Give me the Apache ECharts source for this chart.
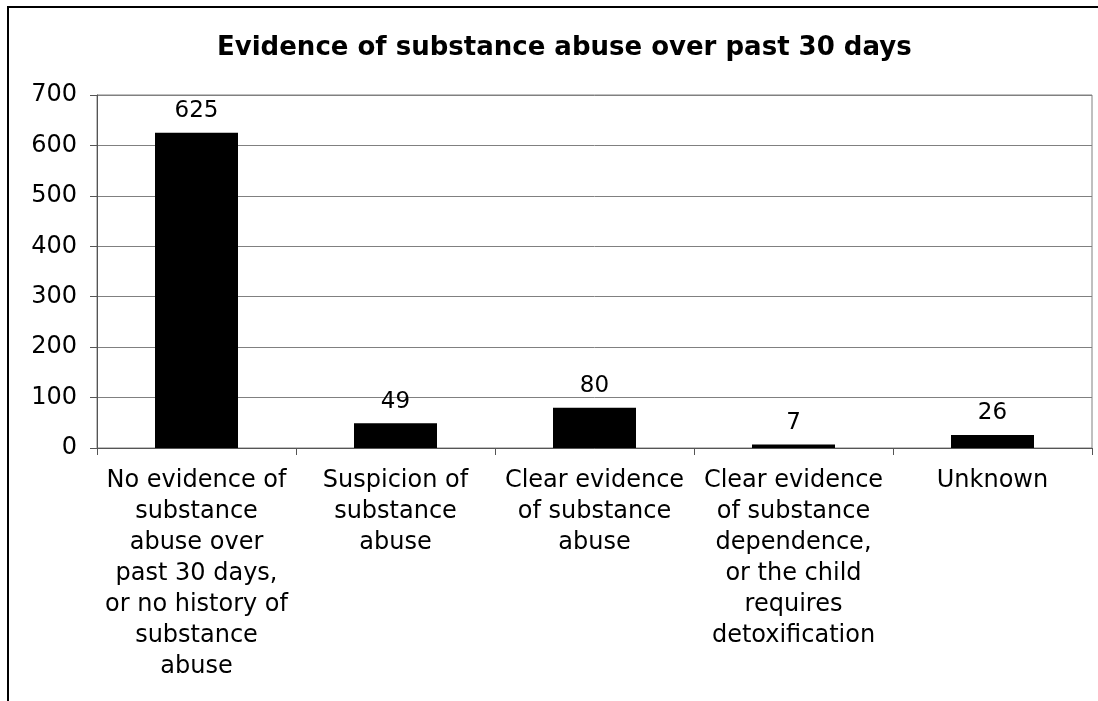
<!DOCTYPE html>
<html><head><meta charset="utf-8">
<script src="https://cdn.jsdelivr.net/npm/echarts@6/dist/echarts.min.js"></script>
<style>html,body{margin:0;padding:0;background:#fff}#c{width:1098px;height:701px}</style>
</head><body><div id="c"></div>
<script>
const titleText = 'Evidence of substance abuse over past 30 days';
const categories = [
  'No evidence of\nsubstance\nabuse over\npast 30 days,\nor no history of\nsubstance\nabuse',
  'Suspicion of\nsubstance\nabuse',
  'Clear evidence\nof substance\nabuse',
  'Clear evidence\nof substance\ndependence,\nor the child\nrequires\ndetoxification',
  'Unknown'
];
const values = [625, 49, 80, 7, 26];
const yTicks = [0, 100, 200, 300, 400, 500, 600, 700];

const chart = echarts.init(document.getElementById('c'));
const font = '"DejaVu Sans", Arial, sans-serif';
chart.setOption({
  animation: false,
  backgroundColor: '#fff',
  title: {
    text: titleText, left: 212, top: 30,
    textStyle: {fontFamily: font, fontSize: 26, fontWeight: 'bold', color: '#000'}
  },
  grid: {left: 97, top: 95, right: 6, bottom: 253, show: true, borderColor: '#808080', borderWidth: 1},
  xAxis: {
    type: 'category', data: categories,
    axisLine: {lineStyle: {color: '#555', width: 1}},
    axisTick: {show: true, alignWithLabel: false, length: 7, lineStyle: {color: '#555'}},
    axisLabel: {interval: 0, fontFamily: font, fontSize: 24, color: '#000', lineHeight: 31, margin: 17, align: 'center'}
  },
  yAxis: {
    type: 'value', min: yTicks[0], max: yTicks[yTicks.length - 1], interval: 100,
    axisLine: {show: true, lineStyle: {color: '#555', width: 1}},
    axisTick: {show: true, length: 7, lineStyle: {color: '#555'}},
    axisLabel: {fontFamily: font, fontSize: 24, color: '#000', margin: 20},
    splitLine: {lineStyle: {color: '#808080', width: 1}}
  },
  series: [{
    type: 'bar', data: values, barWidth: 83,
    itemStyle: {color: '#000'},
    label: {show: true, position: 'top', distance: 10, fontFamily: font, fontSize: 23, color: '#000'}
  }],
  graphic: [{
    type: 'polyline', silent: true,
    shape: {points: [[8, 701], [8, 7], [1098, 7]]},
    style: {stroke: '#000', lineWidth: 2, fill: null}
  }]
});
</script></body></html>
